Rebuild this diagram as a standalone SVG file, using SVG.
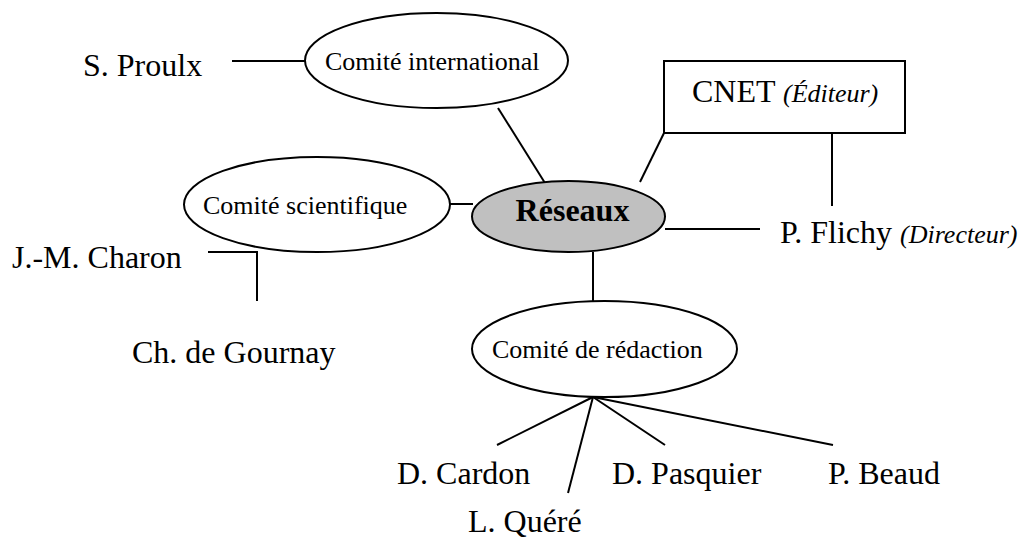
<svg xmlns="http://www.w3.org/2000/svg" width="1028" height="538" viewBox="0 0 1028 538">
<style>
.bg{fill:#ffffff}
.shape{fill:#ffffff;stroke:#000000;stroke-width:2}
.hub{fill:#c0c0c0;stroke:#000000;stroke-width:2}
.ln{fill:none;stroke:#000000;stroke-width:2}
.big{font-family:"Liberation Serif","Times New Roman",serif;font-size:32px;fill:#000}
.small{font-family:"Liberation Serif","Times New Roman",serif;font-size:26px;fill:#000}
.it{font-family:"Liberation Serif","Times New Roman",serif;font-size:26px;font-style:italic}
.bold{font-family:"Liberation Serif","Times New Roman",serif;font-size:32px;font-weight:bold;fill:#000}
</style>
<rect class="bg" x="0" y="0" width="1028" height="538"/>
<g id="connectors">
<line class="ln" x1="232" y1="61" x2="306" y2="61"/>
<line class="ln" x1="498" y1="108" x2="545" y2="183"/>
<line class="ln" x1="450" y1="204" x2="473" y2="204"/>
<line class="ln" x1="664" y1="133" x2="640" y2="182"/>
<line class="ln" x1="832" y1="133" x2="832" y2="206"/>
<line class="ln" x1="665" y1="229" x2="760" y2="229"/>
<polyline class="ln" points="208,252 257,252 257,301"/>
<line class="ln" x1="593" y1="252" x2="593" y2="301"/>
<line class="ln" x1="593" y1="397" x2="497" y2="445"/>
<line class="ln" x1="593" y1="397" x2="568" y2="493"/>
<line class="ln" x1="593" y1="397" x2="665" y2="445"/>
<line class="ln" x1="593" y1="397" x2="833" y2="445"/>
</g>
<g id="comite-international">
<ellipse class="shape" cx="436.5" cy="60.5" rx="131.5" ry="47.5"/>
<text class="small" x="325" y="70">Comité international</text>
</g>
<g id="s-proulx">
<text class="big" x="83" y="76">S. Proulx</text>
</g>
<g id="cnet">
<rect class="shape" x="664" y="61" width="241" height="72"/>
<text class="big" x="692" y="102">CNET <tspan class="it">(Éditeur)</tspan></text>
</g>
<g id="comite-scientifique">
<ellipse class="shape" cx="317" cy="204.5" rx="133" ry="47.5"/>
<text class="small" x="203" y="214">Comité scientifique</text>
</g>
<g id="reseaux">
<ellipse class="hub" cx="568.5" cy="216.5" rx="96.5" ry="35.5"/>
<text class="bold" x="572.5" y="221" text-anchor="middle">Réseaux</text>
</g>
<g id="p-flichy">
<text class="big" x="780" y="243">P. Flichy <tspan class="it">(Directeur)</tspan></text>
</g>
<g id="jm-charon">
<text class="big" x="12" y="268">J.-M. Charon</text>
</g>
<g id="ch-de-gournay">
<text class="big" x="132" y="363">Ch. de Gournay</text>
</g>
<g id="comite-redaction">
<ellipse class="shape" cx="604.5" cy="349" rx="132.5" ry="48"/>
<text class="small" x="492" y="358">Comité de rédaction</text>
</g>
<g id="d-cardon">
<text class="big" x="397" y="484">D. Cardon</text>
</g>
<g id="l-quere">
<text class="big" x="468" y="532">L. Quéré</text>
</g>
<g id="d-pasquier">
<text class="big" x="612" y="484">D. Pasquier</text>
</g>
<g id="p-beaud">
<text class="big" x="828" y="484">P. Beaud</text>
</g>
</svg>
